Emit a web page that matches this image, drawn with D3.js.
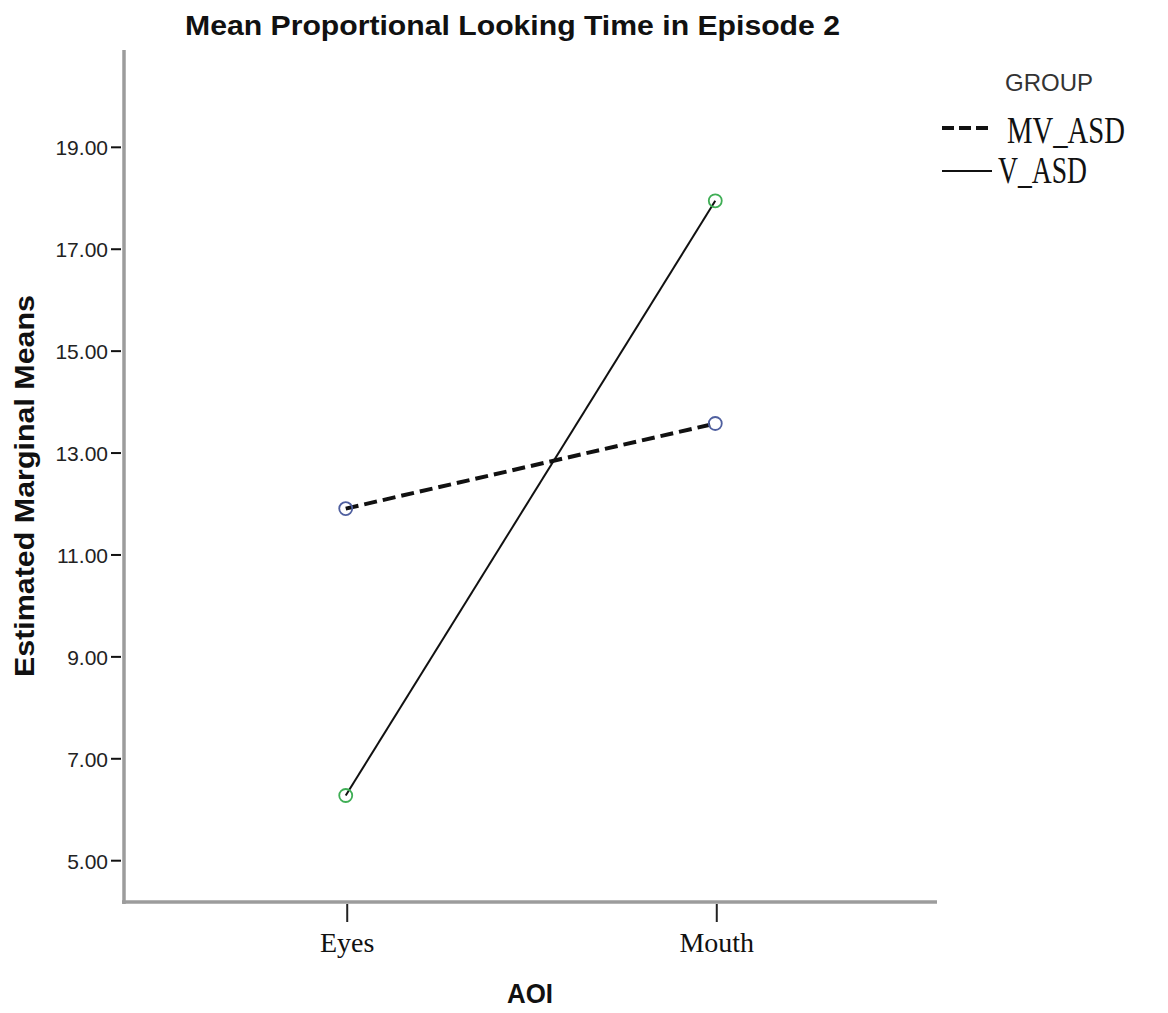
<!DOCTYPE html>
<html>
<head>
<meta charset="utf-8">
<script src="https://cdn.jsdelivr.net/npm/d3@7.9.0/dist/d3.min.js"></script>
<style>
  body { margin: 0; background: #fff; }
</style>
</head>
<body>
<svg width="1168" height="1013"></svg>
<script>
const categories = ['Eyes', 'Mouth'];
const groups = ['MV_ASD', 'V_ASD'];
const mvAsd = [11.90, 13.57];
const vAsd = [6.27, 17.94];
const yTicks = [5, 7, 9, 11, 13, 15, 17, 19];

const svg = d3.select('svg');
const sans = 'Liberation Sans, Arial, sans-serif';
const serif = 'Liberation Serif, Times New Roman, serif';

const x = d3.scalePoint().domain(categories).range([124, 937]).padding(0.6);
const y = d3.scaleLinear().domain([4.16, 20.9]).range([903, 50]);

// axis lines (grey, like SPSS)
svg.append('line')
  .attr('x1', 124).attr('x2', 124).attr('y1', y.range()[1]).attr('y2', y.range()[0] + 1)
  .attr('stroke', '#9c9c9c').attr('stroke-width', 3.5);
svg.append('line')
  .attr('x1', 122).attr('x2', 937).attr('y1', 902).attr('y2', 902)
  .attr('stroke', '#9c9c9c').attr('stroke-width', 3.5);

// y axis
const yAxis = d3.axisLeft(y).tickValues(yTicks).tickFormat(d3.format('.2f')).tickSize(10).tickPadding(3);
const gy = svg.append('g').attr('transform', 'translate(121,0)').call(yAxis);
gy.select('.domain').remove();
gy.selectAll('.tick line').attr('stroke', '#111').attr('stroke-width', 2);
gy.selectAll('.tick text')
  .attr('font-family', sans)
  .attr('font-size', 21).attr('fill', '#222')
  .attr('dy', '0.38em');

// x axis
const xAxis = d3.axisBottom(x).tickSize(18).tickPadding(10);
const gx = svg.append('g').attr('transform', 'translate(1,904)').call(xAxis);
gx.select('.domain').remove();
gx.selectAll('.tick line').attr('stroke', '#222').attr('stroke-width', 2);
gx.selectAll('.tick text')
  .attr('font-family', serif)
  .attr('font-size', 28).attr('fill', '#111');

// lines
const line = d3.line().x((d, i) => x(categories[i])).y(d => y(d));

svg.append('path').datum(mvAsd)
  .attr('d', line).attr('fill', 'none')
  .attr('stroke', '#111').attr('stroke-width', 4)
  .attr('stroke-dasharray', '13,6');

svg.append('path').datum(vAsd)
  .attr('d', line).attr('fill', 'none')
  .attr('stroke', '#111').attr('stroke-width', 2);

// markers
svg.selectAll('.m1').data(mvAsd).join('circle')
  .attr('cx', (d, i) => x(categories[i])).attr('cy', d => y(d)).attr('r', 6.5)
  .attr('fill', 'none').attr('stroke', '#4f5f9f').attr('stroke-width', 1.8);
svg.selectAll('.m2').data(vAsd).join('circle')
  .attr('cx', (d, i) => x(categories[i])).attr('cy', d => y(d)).attr('r', 6.5)
  .attr('fill', 'none').attr('stroke', '#3fae55').attr('stroke-width', 1.8);

// titles
svg.append('text')
  .attr('x', 185).attr('y', 35)
  .attr('font-family', sans).attr('font-weight', 'bold').attr('font-size', 28).attr('fill', '#111')
  .attr('textLength', 655).attr('lengthAdjust', 'spacingAndGlyphs')
  .text('Mean Proportional Looking Time in Episode 2');

svg.append('text')
  .attr('transform', 'translate(34,677) rotate(-90)')
  .attr('font-family', sans).attr('font-weight', 'bold').attr('font-size', 28).attr('fill', '#111')
  .attr('textLength', 382).attr('lengthAdjust', 'spacingAndGlyphs')
  .text('Estimated Marginal Means');

svg.append('text')
  .attr('x', 507).attr('y', 1003)
  .attr('font-family', sans).attr('font-weight', 'bold').attr('font-size', 28).attr('fill', '#111')
  .attr('textLength', 46).attr('lengthAdjust', 'spacingAndGlyphs')
  .text('AOI');

// legend
svg.append('text')
  .attr('x', 1005).attr('y', 91)
  .attr('font-family', sans).attr('font-size', 24).attr('fill', '#333')
  .attr('textLength', 88).attr('lengthAdjust', 'spacingAndGlyphs')
  .text('GROUP');

const legendRows = svg.append('g').selectAll('g').data(groups).join('g')
  .attr('transform', (d, i) => `translate(942,${i === 0 ? 128 : 171})`);
legendRows.append('line')
  .attr('x1', 0).attr('x2', (d, i) => i === 0 ? 47 : 50)
  .attr('stroke', '#111')
  .attr('stroke-width', (d, i) => i === 0 ? 4 : 2)
  .attr('stroke-dasharray', (d, i) => i === 0 ? '12,5' : null);
legendRows.append('text')
  .attr('x', (d, i) => i === 0 ? 65 : 56).attr('y', (d, i) => i === 0 ? 15 : 12)
  .attr('font-family', serif).attr('font-size', 37).attr('fill', '#111')
  .attr('textLength', (d, i) => i === 0 ? 118 : 89).attr('lengthAdjust', 'spacingAndGlyphs')
  .text(d => d);
</script>
</body>
</html>
